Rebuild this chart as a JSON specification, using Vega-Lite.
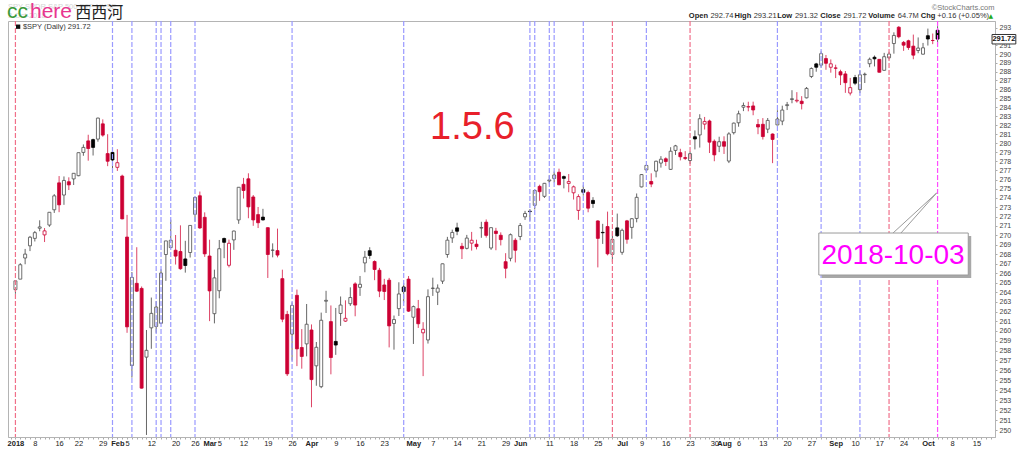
{
"$schema": "https://vega.github.io/schema/vega-lite/v6.json",
"width": 987, "height": 416,
"autosize": {"type": "none"},
"padding": {"left": 8, "top": 21, "right": 29, "bottom": 14},
"background": "white",
"config": {"view": {"stroke": "#b4b4b4", "strokeWidth": 1}, "font": "Liberation Sans"},
"datasets": {
"candles": [
{"i":0,"o":264.27,"h":265.23,"l":263.84,"c":265.19},{"i":1,"o":265.37,"h":267.05,"l":265.37,"c":266.88},{"i":2,"o":267.59,"h":268.55,"l":266.93,"c":268.00},{"i":3,"o":268.88,"h":269.93,"l":268.32,"c":269.79},{"i":4,"o":269.67,"h":270.46,"l":269.34,"c":270.28},{"i":5,"o":270.75,"h":271.60,"l":270.43,"c":270.89},{"i":6,"o":270.04,"h":270.77,"l":269.28,"c":270.47},{"i":7,"o":271.09,"h":272.46,"l":270.90,"c":272.46},{"i":8,"o":272.73,"h":274.42,"l":272.39,"c":274.23},{"i":9,"o":275.64,"h":276.38,"l":272.47,"c":273.26},
{"i":10,"o":274.32,"h":276.34,"l":273.26,"c":275.90},{"i":11,"o":275.76,"h":276.24,"l":274.86,"c":275.42},{"i":12,"o":276.07,"h":276.68,"l":275.41,"c":276.68},{"i":13,"o":276.42,"h":278.94,"l":276.36,"c":278.94},{"i":14,"o":278.97,"h":279.85,"l":278.60,"c":279.52},{"i":15,"o":280.24,"h":280.92,"l":278.06,"c":279.40},{"i":16,"o":280.38,"h":280.49,"l":278.63,"c":279.52},{"i":17,"o":280.44,"h":282.82,"l":280.15,"c":282.77},{"i":18,"o":282.13,"h":282.63,"l":280.70,"c":280.88},{"i":19,"o":278.84,"h":280.98,"l":277.46,"c":278.00},
{"i":20,"o":278.97,"h":279.54,"l":276.92,"c":278.14},{"i":21,"o":277.33,"h":279.32,"l":276.94,"c":277.84},{"i":22,"o":276.38,"h":276.53,"l":271.71,"c":271.75},{"i":23,"o":269.81,"h":272.18,"l":259.81,"c":260.42},{"i":24,"o":256.48,"h":266.11,"l":255.26,"c":265.55},{"i":25,"o":264.93,"h":268.73,"l":264.02,"c":264.11},{"i":26,"o":264.40,"h":264.60,"l":254.16,"c":254.20},{"i":27,"o":257.33,"h":260.10,"l":249.55,"c":258.02},{"i":28,"o":260.32,"h":263.45,"l":258.18,"c":261.81},{"i":29,"o":260.46,"h":263.07,"l":259.81,"c":262.46},
{"i":30,"o":260.79,"h":266.41,"l":260.78,"c":266.00},{"i":31,"o":267.96,"h":269.40,"l":265.19,"c":269.40},{"i":32,"o":268.69,"h":271.66,"l":268.65,"c":269.47},{"i":33,"o":268.41,"h":270.03,"l":266.90,"c":267.79},{"i":34,"o":268.28,"h":271.06,"l":266.35,"c":266.46},{"i":35,"o":267.49,"h":269.41,"l":266.05,"c":266.80},{"i":36,"o":268.17,"h":271.05,"l":267.64,"c":271.05},{"i":37,"o":272.24,"h":274.14,"l":271.45,"c":274.06},{"i":38,"o":274.24,"h":274.70,"l":270.68,"c":270.78},{"i":39,"o":271.92,"h":272.45,"l":267.71,"c":268.03},
{"i":40,"o":267.80,"h":269.53,"l":261.01,"c":264.14},{"i":41,"o":261.78,"h":266.36,"l":260.78,"c":265.50},{"i":42,"o":264.16,"h":269.50,"l":263.37,"c":268.57},{"i":43,"o":269.66,"h":269.75,"l":267.57,"c":269.25},{"i":44,"o":266.82,"h":269.54,"l":266.60,"c":269.15},{"i":45,"o":269.51,"h":270.50,"l":268.45,"c":270.45},{"i":46,"o":271.64,"h":275.16,"l":271.22,"c":275.16},{"i":47,"o":275.48,"h":276.18,"l":273.94,"c":274.81},{"i":48,"o":276.08,"h":276.68,"l":271.82,"c":273.04},{"i":49,"o":274.11,"h":274.32,"l":271.01,"c":271.64},
{"i":50,"o":272.21,"h":273.03,"l":270.77,"c":271.34},{"i":51,"o":271.94,"h":272.83,"l":271.58,"c":271.64},{"i":52,"o":270.81,"h":270.85,"l":265.49,"c":267.96},{"i":53,"o":268.41,"h":269.14,"l":267.66,"c":268.42},{"i":54,"o":268.37,"h":270.71,"l":267.66,"c":267.90},{"i":55,"o":265.42,"h":266.36,"l":260.90,"c":261.21},{"i":56,"o":261.70,"h":262.07,"l":255.42,"c":255.64},{"i":57,"o":259.68,"h":262.95,"l":256.98,"c":262.63},{"i":58,"o":263.68,"h":264.28,"l":256.42,"c":258.17},{"i":59,"o":258.31,"h":260.19,"l":256.16,"c":257.40},
{"i":60,"o":258.68,"h":262.78,"l":257.41,"c":260.69},{"i":61,"o":260.10,"h":260.67,"l":252.29,"c":255.06},{"i":62,"o":256.45,"h":258.87,"l":254.44,"c":258.33},{"i":63,"o":254.35,"h":261.89,"l":254.20,"c":261.10},{"i":64,"o":263.07,"h":264.15,"l":261.85,"c":263.16},{"i":65,"o":260.96,"h":262.63,"l":255.59,"c":257.29},{"i":66,"o":258.93,"h":262.37,"l":257.56,"c":258.56},{"i":67,"o":261.80,"h":263.56,"l":260.52,"c":262.67},{"i":68,"o":261.01,"h":263.16,"l":260.93,"c":261.30},{"i":69,"o":262.81,"h":264.51,"l":262.58,"c":263.45},
{"i":70,"o":264.87,"h":265.04,"l":261.51,"c":262.67},{"i":71,"o":264.51,"h":265.70,"l":263.62,"c":264.83},{"i":72,"o":267.07,"h":268.34,"l":266.09,"c":267.67},{"i":73,"o":268.36,"h":268.73,"l":267.50,"c":267.86},{"i":74,"o":267.22,"h":267.34,"l":265.26,"c":266.38},{"i":75,"o":266.30,"h":266.55,"l":263.49,"c":264.12},{"i":76,"o":264.76,"h":265.40,"l":263.19,"c":264.08},{"i":77,"o":265.26,"h":265.50,"l":258.32,"c":260.52},{"i":78,"o":260.77,"h":261.59,"l":258.09,"c":261.17},{"i":79,"o":262.30,"h":265.04,"l":261.54,"c":263.82},
{"i":80,"o":264.55,"h":264.95,"l":262.93,"c":264.07},{"i":81,"o":265.37,"h":265.69,"l":261.95,"c":262.04},{"i":82,"o":261.41,"h":262.62,"l":258.67,"c":262.51},{"i":83,"o":262.29,"h":263.20,"l":260.31,"c":260.74},{"i":84,"o":259.81,"h":260.90,"l":255.41,"c":260.17},{"i":85,"o":259.08,"h":264.30,"l":258.71,"c":263.54},{"i":86,"o":264.40,"h":265.52,"l":263.62,"c":264.43},{"i":87,"o":264.01,"h":264.82,"l":262.67,"c":264.43},{"i":88,"o":265.16,"h":267.00,"l":264.87,"c":266.98},{"i":89,"o":267.96,"h":269.83,"l":267.62,"c":269.48},
{"i":90,"o":269.72,"h":270.60,"l":269.19,"c":270.30},{"i":91,"o":270.79,"h":271.34,"l":270.01,"c":270.43},{"i":92,"o":268.83,"h":269.19,"l":267.48,"c":268.57},{"i":93,"o":268.61,"h":270.04,"l":268.50,"c":269.70},{"i":94,"o":269.16,"h":270.36,"l":268.37,"c":269.47},{"i":95,"o":269.05,"h":269.53,"l":268.50,"c":268.80},{"i":96,"o":270.77,"h":271.44,"l":269.73,"c":270.82},{"i":97,"o":271.40,"h":271.69,"l":269.75,"c":269.99},{"i":98,"o":268.65,"h":270.84,"l":268.45,"c":270.81},{"i":99,"o":270.44,"h":270.79,"l":268.41,"c":270.19},
{"i":100,"o":270.00,"h":270.31,"l":268.92,"c":269.54},{"i":101,"o":267.20,"h":268.10,"l":265.46,"c":266.51},{"i":102,"o":267.56,"h":270.19,"l":267.24,"c":270.06},{"i":103,"o":269.47,"h":269.69,"l":267.12,"c":268.41},{"i":104,"o":269.87,"h":271.30,"l":269.48,"c":271.04},{"i":105,"o":271.97,"h":272.61,"l":271.64,"c":272.33},{"i":106,"o":272.58,"h":272.80,"l":271.54,"c":272.53},{"i":107,"o":273.21,"h":274.93,"l":272.76,"c":274.81},{"i":108,"o":275.26,"h":275.44,"l":273.69,"c":274.68},{"i":109,"o":274.18,"h":275.63,"l":274.01,"c":275.59},
{"i":110,"o":275.85,"h":276.45,"l":275.60,"c":275.96},{"i":111,"o":276.12,"h":276.87,"l":275.68,"c":276.49},{"i":112,"o":276.80,"h":277.19,"l":275.39,"c":275.43},{"i":113,"o":276.32,"h":276.44,"l":275.04,"c":276.13},{"i":114,"o":275.58,"h":276.60,"l":274.62,"c":275.78},{"i":115,"o":274.56,"h":275.35,"l":273.83,"c":275.21},{"i":116,"o":272.66,"h":274.40,"l":271.65,"c":274.15},{"i":117,"o":274.91,"h":275.37,"l":274.25,"c":274.62},{"i":118,"o":274.59,"h":274.79,"l":272.46,"c":272.90},{"i":119,"o":273.74,"h":274.09,"l":272.93,"c":273.40},
{"i":120,"o":271.53,"h":271.60,"l":266.60,"c":269.67},{"i":121,"o":270.31,"h":271.22,"l":269.08,"c":270.27},{"i":122,"o":270.93,"h":272.53,"l":267.87,"c":268.03},{"i":123,"o":267.97,"h":270.42,"l":267.18,"c":269.56},{"i":124,"o":270.79,"h":272.32,"l":269.82,"c":269.95},{"i":125,"o":268.19,"h":270.71,"l":267.93,"c":270.53},{"i":126,"o":271.54,"h":271.64,"l":269.10,"c":269.57},{"i":127,"o":270.84,"h":271.84,"l":269.63,"c":271.77},{"i":128,"o":271.80,"h":274.49,"l":271.38,"c":274.07},{"i":129,"o":275.20,"h":276.60,"l":275.15,"c":276.54},
{"i":130,"o":277.05,"h":277.65,"l":276.72,"c":277.54},{"i":131,"o":275.79,"h":276.68,"l":275.17,"c":275.51},{"i":132,"o":276.92,"h":278.06,"l":276.24,"c":278.00},{"i":133,"o":277.80,"h":278.56,"l":277.30,"c":278.22},{"i":134,"o":278.27,"h":278.43,"l":277.48,"c":277.97},{"i":135,"o":277.11,"h":279.54,"l":277.05,"c":279.10},{"i":136,"o":279.19,"h":279.80,"l":278.69,"c":279.69},{"i":137,"o":278.94,"h":279.37,"l":278.09,"c":278.49},{"i":138,"o":278.40,"h":279.11,"l":278.13,"c":278.31},{"i":139,"o":278.08,"h":279.06,"l":277.70,"c":278.83},
{"i":140,"o":280.70,"h":281.40,"l":279.30,"c":280.45},{"i":141,"o":280.90,"h":283.20,"l":279.50,"c":282.70},{"i":142,"o":282.10,"h":282.90,"l":281.50,"c":282.40},{"i":143,"o":282.45,"h":282.60,"l":278.90,"c":280.10},{"i":144,"o":280.20,"h":280.40,"l":278.00,"c":278.70},{"i":145,"o":279.65,"h":280.70,"l":279.00,"c":280.15},{"i":146,"o":280.15,"h":280.75,"l":278.80,"c":279.65},{"i":147,"o":278.02,"h":281.20,"l":277.80,"c":281.01},{"i":148,"o":281.15,"h":282.27,"l":280.95,"c":282.21},{"i":149,"o":282.25,"h":283.60,"l":281.81,"c":283.25},
{"i":150,"o":283.99,"h":284.51,"l":283.55,"c":284.18},{"i":151,"o":284.00,"h":284.60,"l":283.53,"c":284.07},{"i":152,"o":284.13,"h":284.61,"l":283.09,"c":283.68},{"i":153,"o":282.06,"h":282.67,"l":280.98,"c":281.78},{"i":154,"o":282.08,"h":282.77,"l":280.39,"c":280.72},{"i":155,"o":281.54,"h":282.78,"l":281.10,"c":282.51},{"i":156,"o":281.00,"h":281.07,"l":277.79,"c":280.40},{"i":157,"o":282.01,"h":283.65,"l":281.97,"c":282.67},{"i":158,"o":282.44,"h":284.16,"l":281.98,"c":283.67},{"i":159,"o":284.17,"h":284.58,"l":283.67,"c":284.27},
{"i":160,"o":284.85,"h":285.90,"l":284.43,"c":284.94},{"i":161,"o":284.69,"h":285.68,"l":284.50,"c":284.77},{"i":162,"o":284.66,"h":285.23,"l":283.74,"c":284.39},{"i":163,"o":285.04,"h":286.26,"l":284.98,"c":286.10},{"i":164,"o":287.45,"h":288.48,"l":287.27,"c":288.36},{"i":165,"o":288.88,"h":289.00,"l":287.99,"c":288.50},{"i":166,"o":288.74,"h":290.31,"l":288.47,"c":290.05},{"i":167,"o":289.49,"h":289.90,"l":288.21,"c":288.95},{"i":168,"o":288.50,"h":289.39,"l":287.88,"c":288.89},{"i":169,"o":288.42,"h":288.79,"l":287.27,"c":288.39},
{"i":170,"o":287.99,"h":288.22,"l":286.48,"c":287.62},{"i":171,"o":287.74,"h":288.07,"l":285.60,"c":286.75},{"i":172,"o":285.58,"h":287.29,"l":285.31,"c":286.19},{"i":173,"o":287.33,"h":287.63,"l":286.47,"c":286.69},{"i":174,"o":285.97,"h":288.13,"l":285.58,"c":287.64},{"i":175,"o":287.65,"h":287.89,"l":286.71,"c":287.71},{"i":176,"o":288.90,"h":289.60,"l":288.50,"c":289.41},{"i":177,"o":289.64,"h":289.84,"l":288.59,"c":289.46},{"i":178,"o":289.40,"h":289.40,"l":287.91,"c":287.93},{"i":179,"o":288.15,"h":290.14,"l":288.12,"c":289.70},
{"i":180,"o":289.58,"h":290.26,"l":289.40,"c":290.01},{"i":181,"o":291.21,"h":292.50,"l":290.05,"c":292.14},{"i":182,"o":293.09,"h":293.22,"l":291.81,"c":291.99},{"i":183,"o":291.34,"h":291.50,"l":290.37,"c":291.02},{"i":184,"o":291.53,"h":291.65,"l":290.48,"c":290.75},{"i":185,"o":290.91,"h":292.24,"l":289.41,"c":289.88},{"i":186,"o":290.41,"h":291.91,"l":290.10,"c":290.69},{"i":187,"o":289.99,"h":291.28,"l":289.95,"c":290.72},{"i":188,"o":292.11,"h":292.93,"l":290.98,"c":291.73},{"i":189,"o":291.56,"h":292.36,"l":291.14,"c":291.56},
{"i":190,"o":292.74,"h":293.21,"l":291.32,"c":291.72}
],
"lines": [
{"i":0,"k":"r"},{"i":20,"k":"b"},{"i":24,"k":"b"},{"i":29,"k":"b"},{"i":30,"k":"b"},{"i":32,"k":"b"},{"i":37,"k":"b"},{"i":57,"k":"b"},{"i":80,"k":"b"},{"i":106,"k":"b"},{"i":107,"k":"b"},{"i":110,"k":"b"},{"i":111,"k":"b"},{"i":117,"k":"b"},{"i":123,"k":"r"},{"i":130,"k":"b"},{"i":139,"k":"r"},{"i":157,"k":"b"},{"i":166,"k":"b"},{"i":174,"k":"b"},{"i":180,"k":"r"},{"i":190,"k":"m"}
]
},
"layer": [
{"data": {"name": "candles"},
 "transform": [{"window": [{"op": "lag", "field": "c", "as": "pc"}], "sort": [{"field": "i", "order": "ascending"}]}],
 "mark": {"type": "rule", "strokeWidth": 1},
 "encoding": {
  "x": {"field": "i", "type": "quantitative", "scale": {"domain": [-0.5, 200.8], "nice": false, "zero": false},
   "axis": {"title": null, "orient": "bottom", "tickCount": 200, "grid": false, "labelOverlap": false, "labelFlush": false, "labelFontSize": 7.5, "labelFont": "Liberation Sans", "labelColor": "#222222", "tickSize": 2, "tickColor": "#aaaaaa", "domainColor": "#b4b4b4", "labelPadding": 0,
    "labelFontWeight": {"condition": {"test": "indexof([0,21,40,61,82,104,125,146,169,188], datum.value) >= 0", "value": "bold"}, "value": "normal"},
    "labelExpr": "split('2018,,,,8,,,,,16,,,,22,,,,,29,,,Feb,,5,,,,,12,,,,,20,,,,26,,,Mar,,5,,,,,12,,,,,19,,,,,26,,,,Apr,,,,,9,,,,,16,,,,,23,,,,,,May,,,,7,,,,,14,,,,,21,,,,,29,,,Jun,,,,,,11,,,,,18,,,,,25,,,,,Jul,,,,9,,,,,16,,,,,23,,,,,30,,Aug,,,6,,,,,13,,,,,20,,,,,27,,,,,Sep,,,,10,,,,,17,,,,,24,,,,,Oct,,,,,8,,,,,15,,,', ',')[datum.value] || ''"}},
  "y": {"field": "l", "type": "quantitative", "scale": {"type": "log", "domain": [249.35, 293.81], "nice": false},
   "axis": {"title": null, "orient": "right", "grid": false, "values": [250,251,252,253,254,255,256,257,258,259,260,261,262,263,264,265,266,267,268,269,270,271,272,273,274,275,276,277,278,279,280,281,282,283,284,285,286,287,288,289,290,291,293], "format": "d", "labelOverlap": false, "labelFontSize": 7, "labelFont": "Liberation Sans", "labelColor": "#444444", "tickSize": 2, "tickColor": "#aaaaaa", "domainColor": "#b4b4b4", "labelPadding": 2}},
  "y2": {"field": "h"},
  "color": {"condition": {"test": "datum.c < datum.pc", "value": "#dd4466"}, "value": "#666666"}
 }},
{"data": {"name": "candles"},
 "transform": [{"window": [{"op": "lag", "field": "c", "as": "pc"}], "sort": [{"field": "i", "order": "ascending"}]}],
 "mark": {"type": "bar", "size": 3, "strokeWidth": 0.8},
 "encoding": {
  "x": {"field": "i", "type": "quantitative", "scale": {"domain": [-0.5, 200.8], "nice": false, "zero": false}},
  "y": {"field": "o", "type": "quantitative", "scale": {"type": "log", "domain": [249.35, 293.81], "nice": false}},
  "y2": {"field": "c"},
  "fill": {"condition": [{"test": "datum.c < datum.o && datum.c < datum.pc", "value": "#cc0033"}, {"test": "datum.c < datum.o", "value": "#000000"}], "value": "#ffffff"},
  "stroke": {"condition": [{"test": "datum.c < datum.pc", "value": "#cc0033"}, {"test": "datum.c < datum.o", "value": "#000000"}], "value": "#4d4d4d"}
 }},
{"data": {"name": "lines"},
 "mark": {"type": "rule", "strokeDash": [5, 2], "strokeWidth": 1.2},
 "encoding": {
  "x": {"field": "i", "type": "quantitative", "scale": {"domain": [-0.5, 200.8], "nice": false, "zero": false}},
  "color": {"field": "k", "type": "nominal", "scale": {"domain": ["b", "r", "m"], "range": ["#9a9aff", "#f0708a", "#ff4dff"]}, "legend": null}
 }},
{"data": {"values": [{}]}, "mark": {"type": "text", "align": "left", "baseline": "middle", "fontSize": 7.5, "color": "#d4d4d4"},
 "encoding": {"x": {"datum": -1.52, "type": "quantitative", "scale": {"domain": [-0.5, 200.8], "nice": false, "zero": false}}, "y": {"datum": 295.44, "type": "quantitative", "scale": {"type": "log", "domain": [249.35, 293.81], "nice": false}}, "text": {"value": "SPY SPDR S&P 500 ETF  NYSE"}}},
{"data": {"values": [{}]}, "mark": {"type": "text", "align": "left", "baseline": "middle", "fontSize": 7.5, "color": "#d4d4d4"},
 "encoding": {"x": {"datum": -1.52, "type": "quantitative", "scale": {"domain": [-0.5, 200.8], "nice": false, "zero": false}}, "y": {"datum": 294.39, "type": "quantitative", "scale": {"type": "log", "domain": [249.35, 293.81], "nice": false}}, "text": {"value": "3-Oct-2018"}}},
{"data": {"values": [{}]}, "mark": {"type": "text", "align": "left", "baseline": "alphabetic", "fontSize": 21, "color": "#3a9a3a"},
 "encoding": {"x": {"datum": -1.72, "type": "quantitative", "scale": {"domain": [-0.5, 200.8], "nice": false, "zero": false}}, "y": {"datum": 294.2, "type": "quantitative", "scale": {"type": "log", "domain": [249.35, 293.81], "nice": false}}, "text": {"value": "cc"}}},
{"data": {"values": [{}]}, "mark": {"type": "text", "align": "left", "baseline": "alphabetic", "fontSize": 21, "color": "#e8368f"},
 "encoding": {"x": {"datum": 3.0, "type": "quantitative", "scale": {"domain": [-0.5, 200.8], "nice": false, "zero": false}}, "y": {"datum": 294.2, "type": "quantitative", "scale": {"type": "log", "domain": [249.35, 293.81], "nice": false}}, "text": {"value": "here"}}},
{"data": {"values": [{}]}, "mark": {"type": "text", "align": "left", "baseline": "alphabetic", "fontSize": 16, "font": "Noto Sans CJK SC", "color": "#222222"},
 "encoding": {"x": {"datum": 12.35, "type": "quantitative", "scale": {"domain": [-0.5, 200.8], "nice": false, "zero": false}}, "y": {"datum": 294.2, "type": "quantitative", "scale": {"type": "log", "domain": [249.35, 293.81], "nice": false}}, "text": {"value": "西西河"}}},
{"data": {"values": [{}]}, "mark": {"type": "rect", "color": "#111111"},
 "encoding": {"x": {"datum": 0.12, "type": "quantitative", "scale": {"domain": [-0.5, 200.8], "nice": false, "zero": false}}, "x2": {"datum": 1.0}, "y": {"datum": 293.4, "type": "quantitative", "scale": {"type": "log", "domain": [249.35, 293.81], "nice": false}}, "y2": {"datum": 292.9}}},
{"data": {"values": [{}]}, "mark": {"type": "text", "align": "left", "baseline": "middle", "fontSize": 7.5, "color": "#333333"},
 "encoding": {"x": {"datum": 1.54, "type": "quantitative", "scale": {"domain": [-0.5, 200.8], "nice": false, "zero": false}}, "y": {"datum": 293.12, "type": "quantitative", "scale": {"type": "log", "domain": [249.35, 293.81], "nice": false}}, "text": {"value": "$SPY (Daily) 291.72"}}},
{"data": {"values": [{}]}, "mark": {"type": "text", "align": "center", "baseline": "alphabetic", "fontSize": 38, "color": "#e8202a"},
 "encoding": {"x": {"datum": 94.14, "type": "quantitative", "scale": {"domain": [-0.5, 200.8], "nice": false, "zero": false}}, "y": {"datum": 280.45, "type": "quantitative", "scale": {"type": "log", "domain": [249.35, 293.81], "nice": false}}, "text": {"value": "1.5.6"}}},
{"data": {"values": [{"t": "Open", "p": 138.74}, {"t": "High", "p": 148.18}, {"t": "Low", "p": 156.95}, {"t": "Close", "p": 165.82}, {"t": "Volume", "p": 175.72}, {"t": "Chg", "p": 186.53}]},
 "mark": {"type": "text", "align": "left", "baseline": "middle", "fontSize": 7.5, "fontWeight": "bold", "color": "#222222"},
 "encoding": {"x": {"field": "p", "type": "quantitative", "scale": {"domain": [-0.5, 200.8], "nice": false, "zero": false}}, "y": {"datum": 294.39, "type": "quantitative", "scale": {"type": "log", "domain": [249.35, 293.81], "nice": false}}, "text": {"field": "t"}}},
{"data": {"values": [{"t": "292.74", "p": 143.2}, {"t": "293.21", "p": 152.1}, {"t": "291.32", "p": 160.6}, {"t": "291.72", "p": 170.6}, {"t": "64.7M", "p": 181.8}, {"t": "+0.16 (+0.05%)", "p": 189.95}]},
 "mark": {"type": "text", "align": "left", "baseline": "middle", "fontSize": 7.5, "color": "#333333"},
 "encoding": {"x": {"field": "p", "type": "quantitative", "scale": {"domain": [-0.5, 200.8], "nice": false, "zero": false}}, "y": {"datum": 294.39, "type": "quantitative", "scale": {"type": "log", "domain": [249.35, 293.81], "nice": false}}, "text": {"field": "t"}}},
{"data": {"values": [{}]}, "mark": {"type": "text", "align": "left", "baseline": "middle", "fontSize": 6, "font": "DejaVu Sans", "color": "#22aa22"},
 "encoding": {"x": {"datum": 200.5, "type": "quantitative", "scale": {"domain": [-0.5, 200.8], "nice": false, "zero": false}}, "y": {"datum": 294.39, "type": "quantitative", "scale": {"type": "log", "domain": [249.35, 293.81], "nice": false}}, "text": {"value": "▲"}}},
{"data": {"values": [{}]}, "mark": {"type": "text", "align": "left", "baseline": "middle", "fontSize": 7.5, "color": "#777777"},
 "encoding": {"x": {"datum": 188.8, "type": "quantitative", "scale": {"domain": [-0.5, 200.8], "nice": false, "zero": false}}, "y": {"datum": 295.32, "type": "quantitative", "scale": {"type": "log", "domain": [249.35, 293.81], "nice": false}}, "text": {"value": "©StockCharts.com"}}},
{"data": {"values": [{}]}, "mark": {"type": "rule", "color": "#9a9a9a", "strokeWidth": 1},
 "encoding": {"x": {"datum": 180.82, "type": "quantitative", "scale": {"domain": [-0.5, 200.8], "nice": false, "zero": false}}, "x2": {"datum": 189.8}, "y": {"datum": 270.24, "type": "quantitative", "scale": {"type": "log", "domain": [249.35, 293.81], "nice": false}}, "y2": {"datum": 274.54}}},
{"data": {"values": [{}]}, "mark": {"type": "rule", "color": "#9a9a9a", "strokeWidth": 1},
 "encoding": {"x": {"datum": 182.45, "type": "quantitative", "scale": {"domain": [-0.5, 200.8], "nice": false, "zero": false}}, "x2": {"datum": 189.8}, "y": {"datum": 270.24, "type": "quantitative", "scale": {"type": "log", "domain": [249.35, 293.81], "nice": false}}, "y2": {"datum": 274.54}}},
{"data": {"values": [{}]}, "mark": {"type": "rect", "color": "#a8a8a8"},
 "encoding": {"x": {"datum": 166.14, "type": "quantitative", "scale": {"domain": [-0.5, 200.8], "nice": false, "zero": false}}, "x2": {"datum": 196.93}, "y": {"datum": 269.92, "type": "quantitative", "scale": {"type": "log", "domain": [249.35, 293.81], "nice": false}}, "y2": {"datum": 265.49}}},
{"data": {"values": [{}]}, "mark": {"type": "rect", "fill": "#ffffff", "stroke": "#9a9a9a", "strokeWidth": 1},
 "encoding": {"x": {"datum": 165.53, "type": "quantitative", "scale": {"domain": [-0.5, 200.8], "nice": false, "zero": false}}, "x2": {"datum": 196.32}, "y": {"datum": 270.24, "type": "quantitative", "scale": {"type": "log", "domain": [249.35, 293.81], "nice": false}}, "y2": {"datum": 265.80}}},
{"data": {"values": [{}]}, "mark": {"type": "text", "align": "center", "baseline": "alphabetic", "fontSize": 28, "color": "#ff00ff"},
 "encoding": {"x": {"datum": 180.82, "type": "quantitative", "scale": {"domain": [-0.5, 200.8], "nice": false, "zero": false}}, "y": {"datum": 266.95, "type": "quantitative", "scale": {"type": "log", "domain": [249.35, 293.81], "nice": false}}, "text": {"value": "2018-10-03"}}},
{"data": {"values": [{}]}, "mark": {"type": "rect", "fill": "#ffffff", "stroke": "#333333", "strokeWidth": 1},
 "encoding": {"x": {"datum": 201.22, "type": "quantitative", "scale": {"domain": [-0.5, 200.8], "nice": false, "zero": false}}, "x2": {"datum": 206.12}, "y": {"datum": 292.25, "type": "quantitative", "scale": {"type": "log", "domain": [249.35, 293.81], "nice": false}}, "y2": {"datum": 291.16}}},
{"data": {"values": [{}]}, "mark": {"type": "text", "align": "center", "baseline": "middle", "fontSize": 7.5, "fontWeight": "bold", "color": "#111111"},
 "encoding": {"x": {"datum": 203.66, "type": "quantitative", "scale": {"domain": [-0.5, 200.8], "nice": false, "zero": false}}, "y": {"datum": 291.72, "type": "quantitative", "scale": {"type": "log", "domain": [249.35, 293.81], "nice": false}}, "text": {"value": "291.72"}}}
]
}
